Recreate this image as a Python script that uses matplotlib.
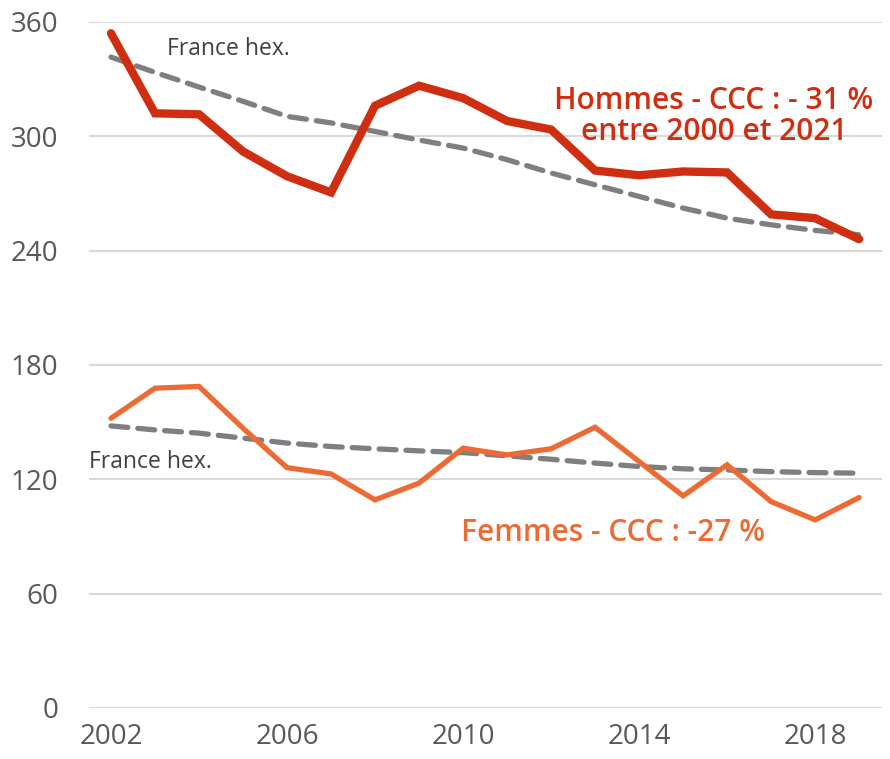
import numpy as np
import matplotlib.pyplot as plt

plt.rcParams['font.family'] = ['Open Sans', 'DejaVu Sans']

years = list(range(2002, 2020))
hommes_ccc = [354, 312, 311.5, 292, 279, 270.5, 316, 326.5, 320, 308, 303.5,
              282, 279.5, 281.5, 281, 259, 257, 246]
hommes_france = [341.5, 333.5, 325.8, 318.3, 310.4, 307, 302.5, 298, 293.8, 287.7,
                 280.7, 274.5, 268.4, 262.3, 257, 253.5, 250.6, 248.3]
femmes_ccc = [152, 167.8, 168.7, 146.8, 126.1, 122.8, 109.2, 118, 136.3, 132.8,
              136, 147.3, 129.3, 111.3, 127.6, 108.3, 98.7, 110.4]
femmes_france = [148, 145.9, 144.2, 141.6, 139, 137.2, 136, 134.9, 134, 132.3,
                 130.5, 128.5, 126.7, 125.5, 124.9, 124, 123.5, 123.2]

xticks = [2002, 2006, 2010, 2014, 2018]
yticks = [0, 60, 120, 180, 240, 300, 360]

red = '#CF2F10'
orange = '#EC6B34'
grey = '#7F7F7F'

fig = plt.figure(figsize=(8.9, 7.59), dpi=100)
ax = fig.add_axes([0.1, 0.0672, 0.891, 0.904])

ax.plot(years, hommes_france, color=grey, lw=3.8, ls=(0, (3.2, 1.9)),
        dash_capstyle='round', zorder=3)
ax.plot(years, femmes_france, color=grey, lw=3.8, ls=(0, (3.2, 1.9)),
        dash_capstyle='round', zorder=3)
ax.plot(years, hommes_ccc, color=red, lw=6, solid_capstyle='round',
        solid_joinstyle='miter', zorder=4, clip_on=False)
ax.plot(years, femmes_ccc, color=orange, lw=3.8, solid_capstyle='round',
        solid_joinstyle='miter', zorder=4, clip_on=False)

ax.set_xlim(2001.5, 2019.52)
ax.set_ylim(0, 360)
ax.set_xticks(xticks)
ax.set_yticks(yticks)
ax.grid(axis='y', color='#D9D9D9', lw=1.5)
ax.set_axisbelow(True)
for s in ax.spines.values():
    s.set_visible(False)
ax.tick_params(length=0, labelsize=20, labelcolor='#595959')
ax.tick_params(axis='y', pad=22)
ax.tick_params(axis='x', pad=11)

ax.text(2003.27, 345.5, 'France hex.', fontsize=16.5, color='#404040',
        va='center', ha='left')
ax.text(2001.5, 129.2, 'France hex.', fontsize=16.5, color='#404040',
        va='center', ha='left')
ax.text(2015.7, 310.5, 'Hommes - CCC : - 31 %\nentre 2000 et 2021', fontsize=21.5,
        color=red, fontweight='semibold', ha='center', va='center', linespacing=1.05)
ax.text(2013.4, 91.6, 'Femmes - CCC : -27 %', fontsize=21.5, color=orange,
        fontweight='semibold', ha='center', va='center')

fig.savefig('out.png', dpi=100)
